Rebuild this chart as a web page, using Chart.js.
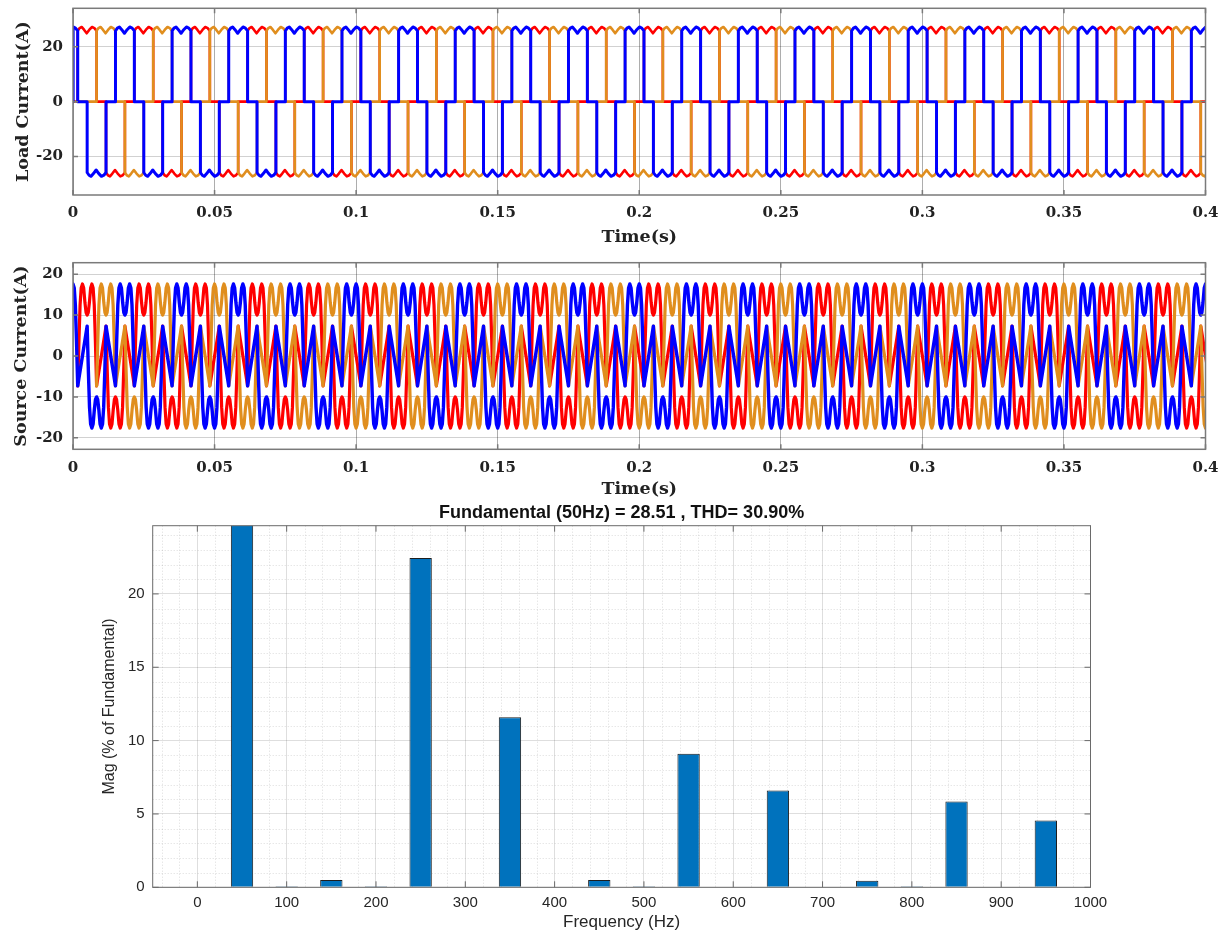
<!DOCTYPE html>
<html>
<head>
<meta charset="utf-8">
<title>Load current, source current and load-current spectrum</title>
<script src="https://cdn.jsdelivr.net/npm/chart.js@4.4.1/dist/chart.umd.min.js"></script>
<style>
  html, body { margin: 0; padding: 0; background: #ffffff; }
  #wrap { position: relative; width: 1228px; height: 934px; overflow: hidden; background: #ffffff; }
  #wrap canvas { position: absolute; left: 0; }
</style>
</head>
<body>
<div id="wrap">
  <canvas id="loadChart" width="1228" height="252" style="top:0px"></canvas>
  <canvas id="sourceChart" width="1228" height="255" style="top:250px"></canvas>
  <canvas id="fftChart" width="1228" height="434" style="top:500px"></canvas>
</div>
<script>
// ---------- time axis ----------
const timeTicks = [0, 0.05, 0.1, 0.15, 0.2, 0.25, 0.3, 0.35, 0.4];
const fundamentalPeriod = 0.02;                 // 50 Hz supply
const cycleStarts = [-0.02, 0, 0.02, 0.04, 0.06, 0.08, 0.1, 0.12, 0.14, 0.16, 0.18,
                     0.2, 0.22, 0.24, 0.26, 0.28, 0.3, 0.32, 0.34, 0.36, 0.38];
// start of the positive conduction interval of each phase inside a cycle (s)
const phaseStartA = 0.015;     // blue
const phaseStartB = 0.02167;   // red
const phaseStartC = 0.02833;   // orange

// ---------- load current: one cycle of phase A (angle in degrees, current in A) ----------
const loadAngles = [0, 0, 12, 25, 40, 57, 74, 91, 106, 120, 120, 180,
                    180, 192, 205, 220, 237, 254, 271, 286, 300, 300];
const loadValues = [0, 25.8, 26.8, 27.2, 26.2, 24.9, 26.2, 27.2, 26.8, 25.8, 0, 0,
                    -25.8, -26.8, -27.2, -26.2, -24.9, -26.2, -27.2, -26.8, -25.8, 0];
const loadTicks = [-20, 0, 20];

// ---------- source current: one cycle of phase A ----------
const sourceAngles = [0, 8, 15, 22, 30, 38, 46, 53, 60, 67, 74, 82, 90, 98, 105, 112, 120,
                      180, 188, 195, 202, 210, 218, 226, 233, 240, 247, 254, 262, 270, 278,
                      285, 292, 300];
const sourceValues = [-7.3, 4, 12.5, 16.6, 17.6, 16.6, 13, 10.6, 10, 10.6, 13, 16.6, 17.6,
                      16.6, 12.5, 4, -7.3,
                      7.3, -4, -12.5, -16.6, -17.6, -16.6, -13, -10.6, -10, -10.6, -13,
                      -16.6, -17.6, -16.6, -12.5, -4, 7.3];
const sourceTicks = [-20, -10, 0, 10, 20];

// ---------- harmonic spectrum of the load current ----------
const harmonicFreqs = [0, 50, 100, 150, 200, 250, 300, 350, 400, 450, 500,
                       550, 600, 650, 700, 750, 800, 850, 900, 950, 1000];
const harmonicMag   = [0, 100, 0.08, 0.5, 0.08, 22.45, 0, 11.6, 0, 0.5, 0.08,
                       9.1, 0, 6.6, 0, 0.45, 0.08, 5.85, 0, 4.55, 0];
const freqTicks = [0, 100, 200, 300, 400, 500, 600, 700, 800, 900, 1000];
const magTicks = [0, 5, 10, 15, 20];
const fftTitle = 'Fundamental (50Hz) = 28.51 , THD= 30.90%';

const BLUE = '#0000ff', RED = '#ff0000', ORANGE = '#e08e1e', BAR = '#0072bd';
const SERIF = 'DejaVu Serif';
const SANS = 'Liberation Sans';

// place one cycle shape at every cycle start for a phase
function buildPhase(angles, values, start) {
  const pts = [];
  cycleStarts.forEach(c => {
    angles.forEach((a, i) => {
      pts.push({ x: +(c + start + a / 360 * fundamentalPeriod).toFixed(6), y: values[i] });
    });
  });
  return pts;
}
// simulation starts with zero current
function fromRest(pts) {
  return [{ x: 0, y: 0 }].concat(pts.filter(p => p.x > 0));
}

// fixed axis boxes: no extra room reserved for edge labels
function fixWidth(w) {
  return s => { s.width = w; s.paddingTop = 0; s.paddingBottom = 0; };
}
function fixHeight(h) {
  return s => { s.height = h; s.paddingLeft = 0; s.paddingRight = 0; };
}

// box, inward tick marks and optional dotted minor grid
const framePlugin = {
  id: 'frame',
  beforeDatasetsDraw(chart, args, opts) {
    if (!opts.minorX) return;
    const { ctx, chartArea: a, scales } = chart;
    const xs = scales.x, ys = scales.y;
    ctx.save();
    ctx.strokeStyle = 'rgba(0,0,0,0.14)';
    ctx.lineWidth = 1;
    ctx.setLineDash([1, 2]);
    for (let v = Math.ceil(xs.min / opts.minorX) * opts.minorX; v < xs.max; v += opts.minorX) {
      if (v % opts.majorX === 0) continue;
      const px = Math.round(xs.getPixelForValue(v)) + 0.5;
      ctx.beginPath(); ctx.moveTo(px, a.top); ctx.lineTo(px, a.bottom); ctx.stroke();
    }
    for (let v = opts.minorY; v < ys.max; v += opts.minorY) {
      if (v % opts.majorY === 0) continue;
      const py = Math.round(ys.getPixelForValue(v)) + 0.5;
      ctx.beginPath(); ctx.moveTo(a.left, py); ctx.lineTo(a.right, py); ctx.stroke();
    }
    ctx.restore();
  },
  afterDatasetsDraw(chart, args, opts) {
    const { ctx, chartArea: a, scales } = chart;
    const len = opts.tickLen || 5;
    ctx.save();
    ctx.strokeStyle = opts.color || '#777';
    ctx.lineWidth = opts.width || 1;
    ctx.strokeRect(a.left, a.top, a.right - a.left, a.bottom - a.top);
    ctx.beginPath();
    scales.x.ticks.forEach(t => {
      const px = scales.x.getPixelForValue(t.value);
      ctx.moveTo(px, a.bottom); ctx.lineTo(px, a.bottom - len);
      ctx.moveTo(px, a.top); ctx.lineTo(px, a.top + len);
    });
    scales.y.ticks.forEach(t => {
      const py = scales.y.getPixelForValue(t.value);
      ctx.moveTo(a.left, py); ctx.lineTo(a.left + len, py);
      ctx.moveTo(a.right, py); ctx.lineTo(a.right - len, py);
    });
    ctx.stroke();
    ctx.restore();
  }
};
Chart.register(framePlugin);

function lineSet(label, data, color, width) {
  return {
    label, data, borderColor: color, borderWidth: width, pointRadius: 0,
    tension: 0, fill: false, clip: 0, borderJoinStyle: 'round', borderCapStyle: 'round'
  };
}

function timeOptions(cfg) {
  return {
    responsive: false, animation: false, devicePixelRatio: 1, parsing: false,
    events: [],
    layout: { padding: { top: cfg.top, right: 22.5, left: 0, bottom: 0 } },
    plugins: {
      legend: { display: false }, tooltip: { enabled: false },
      frame: { color: '#7a7a7a', width: 1.5, tickLen: 5 }
    },
    scales: {
      x: {
        type: 'linear', min: 0, max: 0.4,
        afterBuildTicks: s => { s.ticks = timeTicks.map(v => ({ value: v })); },
        afterFit: fixHeight(cfg.xHeight),
        grid: { color: 'rgba(0,0,0,0.32)', lineWidth: 1, drawTicks: false },
        border: { display: false },
        ticks: {
          padding: cfg.xPad, maxRotation: 0, autoSkip: false, color: '#222',
          font: { family: SERIF, weight: 'bold', size: 15 },
          callback: v => String(v)
        },
        title: {
          display: true, text: 'Time(s)', color: '#222',
          font: { family: SERIF, weight: 'bold', size: 17.5 },
          padding: { top: 0, bottom: cfg.xTitlePad }
        }
      },
      y: {
        min: -cfg.yMax, max: cfg.yMax,
        afterBuildTicks: s => { s.ticks = cfg.yTicks.map(v => ({ value: v })); },
        afterFit: fixWidth(73),
        grid: { color: 'rgba(0,0,0,0.18)', lineWidth: 1, drawTicks: false },
        border: { display: false },
        ticks: {
          padding: 10, color: '#222',
          font: { family: SERIF, weight: 'bold', size: 15 }
        },
        title: {
          display: true, text: cfg.yTitle, color: '#222',
          font: { family: SERIF, weight: 'bold', size: 17.5 },
          padding: { top: cfg.yTitlePad, bottom: 0 }
        }
      }
    }
  };
}

// ---------- Load current ----------
new Chart(document.getElementById('loadChart'), {
  type: 'line',
  data: {
    datasets: [
      lineSet('i_La', fromRest(buildPhase(loadAngles, loadValues, phaseStartA)), BLUE, 3),
      lineSet('i_Lc', fromRest(buildPhase(loadAngles, loadValues, phaseStartC)), ORANGE, 2.6),
      lineSet('i_Lb', fromRest(buildPhase(loadAngles, loadValues, phaseStartB)), RED, 2.6)
    ]
  },
  options: timeOptions({
    top: 8.3, xHeight: 57, xPad: 9, xTitlePad: 4.2,
    yMax: 34, yTicks: loadTicks, yTitle: 'Load Current(A)', yTitlePad: 12.5
  })
});

// ---------- Source current ----------
new Chart(document.getElementById('sourceChart'), {
  type: 'line',
  data: {
    datasets: [
      lineSet('i_Sa', buildPhase(sourceAngles, sourceValues, phaseStartA), BLUE, 3.4),
      lineSet('i_Sc', buildPhase(sourceAngles, sourceValues, phaseStartC), ORANGE, 3.2),
      lineSet('i_Sb', buildPhase(sourceAngles, sourceValues, phaseStartB), RED, 3.2)
    ]
  },
  options: timeOptions({
    top: 12.7, xHeight: 55.7, xPad: 9.7, xTitlePad: 5.2,
    yMax: 22.8, yTicks: sourceTicks, yTitle: 'Source Current(A)', yTitlePad: 11.2
  })
});

// ---------- Harmonic spectrum ----------
new Chart(document.getElementById('fftChart'), {
  type: 'bar',
  data: {
    datasets: [{
      label: 'Mag',
      data: harmonicFreqs.map((f, i) => ({ x: f, y: harmonicMag[i] })),
      backgroundColor: BAR, borderColor: '#1e1e1e', borderWidth: 1,
      barPercentage: 0.5, categoryPercentage: 1.0
    }]
  },
  options: {
    responsive: false, animation: false, devicePixelRatio: 1, events: [],
    layout: { padding: { top: 0, right: 137.5, left: 0, bottom: 0 } },
    plugins: {
      legend: { display: false }, tooltip: { enabled: false },
      frame: { color: '#6a6a6a', width: 1, tickLen: 6, minorX: 20, majorX: 100, minorY: 1, majorY: 5 }
    },
    scales: {
      x: {
        type: 'linear', min: -50, max: 1000, offset: false,
        afterBuildTicks: s => { s.ticks = freqTicks.map(v => ({ value: v })); },
        afterFit: fixHeight(46.7),
        grid: { color: 'rgba(0,0,0,0.13)', drawTicks: false, offset: false },
        border: { display: false },
        ticks: {
          padding: 6.5, maxRotation: 0, autoSkip: false, color: '#262626',
          font: { family: SANS, size: 15 },
          callback: v => String(v)
        },
        title: {
          display: true, text: 'Frequency (Hz)', color: '#262626',
          font: { family: SANS, size: 17 }, padding: { top: 0, bottom: 1 }
        }
      },
      x2: {
        type: 'linear', position: 'top', min: -50, max: 1000,
        afterFit: fixHeight(25.7),
        grid: { display: false }, border: { display: false },
        ticks: { display: false },
        title: {
          display: true, text: fftTitle, color: '#111',
          font: { family: SANS, size: 18, weight: 'bold' }, padding: { top: 2.2, bottom: 0 }
        }
      },
      y: {
        min: 0, max: 24.65,
        afterBuildTicks: s => { s.ticks = magTicks.map(v => ({ value: v })); },
        afterFit: fixWidth(152.7),
        grid: { color: 'rgba(0,0,0,0.13)', drawTicks: false },
        border: { display: false },
        ticks: { padding: 8, color: '#262626', font: { family: SANS, size: 15 } },
        title: {
          display: true, text: 'Mag (% of Fundamental)', color: '#262626',
          font: { family: SANS, size: 16 }, padding: { top: 100.4, bottom: 0 }
        }
      }
    }
  }
});
</script>
</body>
</html>
